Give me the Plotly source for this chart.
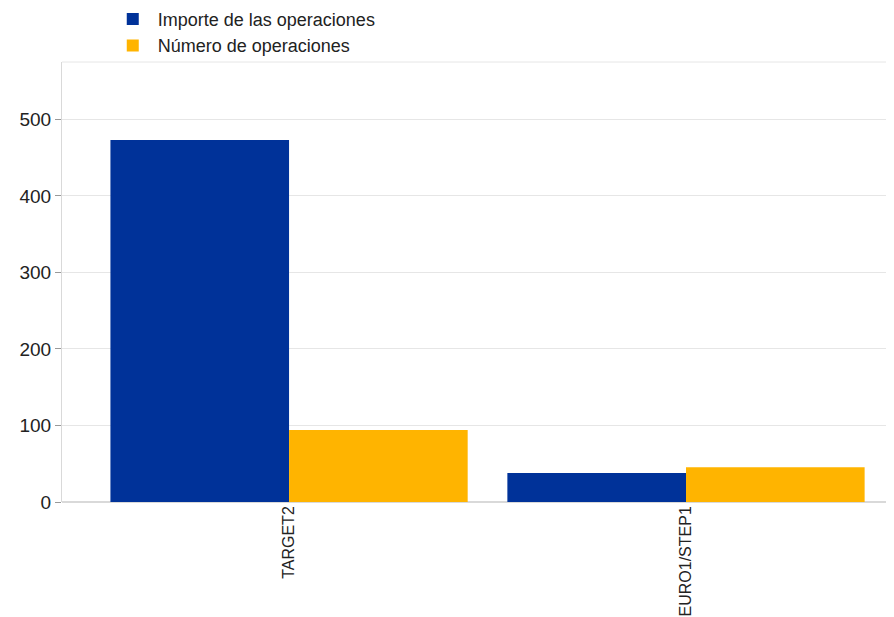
import plotly.graph_objects as go

categories = ["TARGET2", "EURO1/STEP1"]
importe = [473, 38]
numero = [94, 45.5]
series_names = ["Importe de las operaciones", "Número de operaciones"]
y_ticks = [0, 100, 200, 300, 400, 500]

fig = go.Figure()
fig.add_trace(go.Bar(x=categories, y=importe, name=series_names[0],
                     marker=dict(color="#003299", line=dict(width=0))))
fig.add_trace(go.Bar(x=categories, y=numero, name=series_names[1],
                     marker=dict(color="#FFB400", line=dict(width=0))))

fig.update_layout(
    width=894, height=617,
    margin=dict(l=54, r=8, t=54, b=123, autoexpand=False),
    barmode="group", bargap=0.1, bargroupgap=0,
    plot_bgcolor="white", paper_bgcolor="white",
    font=dict(family="Liberation Sans, Arial", size=18, color="#222"),
    legend=dict(x=0.055, y=1.139, xanchor="left", yanchor="top",
                orientation="v", font=dict(size=18), tracegroupgap=0,
                itemwidth=40, bgcolor="rgba(0,0,0,0)"),
    xaxis=dict(range=[-0.572, 1.524], tickangle=-90, showgrid=False,
               tickfont=dict(size=16), ticks="", showline=False,
               automargin=False),
    yaxis=dict(range=[0, 575], tickvals=y_ticks, showgrid=True,
               gridcolor="#e6e6e6", gridwidth=1, zeroline=True,
               zerolinecolor="#d9d9d9", showline=True, linecolor="#d9d9d9",
               ticks="outside", ticklen=6, tickcolor="#999",
               tickfont=dict(size=19), mirror=False, automargin=False),
    shapes=[dict(type="line", xref="paper", yref="paper", x0=0, x1=1, y0=1, y1=1,
                 line=dict(color="#e6e6e6", width=1))],
)

fig.write_html("out.html")
